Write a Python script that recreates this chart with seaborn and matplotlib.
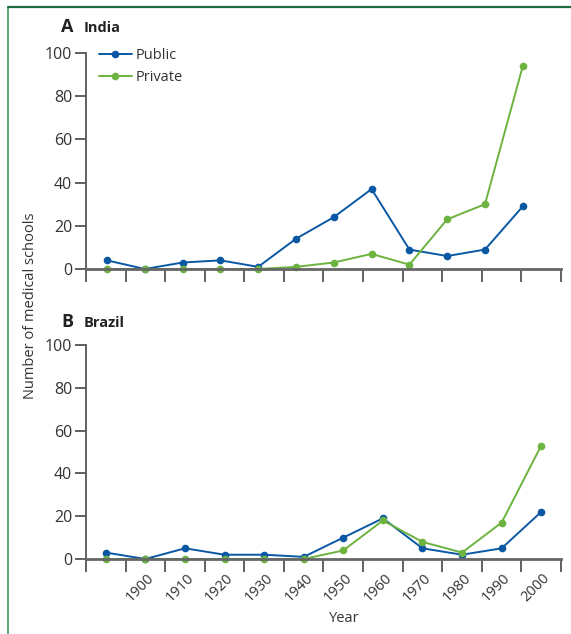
import matplotlib
matplotlib.use("Agg")
import matplotlib.pyplot as plt
import matplotlib.transforms as mtransforms
from matplotlib.lines import Line2D
import seaborn as sns
import numpy as np
import pandas as pd

# ---- data ----
decade_labels = ["", "1900", "1910", "1920", "1930", "1940", "1950",
                 "1960", "1970", "1980", "1990", "2000"]
india_public = [4, 0, 3, 4, 1, 14, 24, 37, 9, 6, 9, 29]
india_private = [0, 0, 0, 0, 0, 1, 3, 7, 2, 23, 30, 94]
brazil_public = [3, 0, 5, 2, 2, 1, 10, 19, 5, 2, 5, 22]
brazil_private = [0, 0, 0, 0, 0, 0, 4, 18, 8, 3, 17, 53]

BLUE = "#0a57a4"
GREEN = "#6cb33f"
SPINE = "#555555"
TEXT = "#333333"

sns.set_theme(style="white")
plt.rcParams["font.family"] = ["Open Sans", "DejaVu Sans"]

fig = plt.figure(figsize=(5.71, 6.34), dpi=100)
W, H = 571, 634

def px_axes(left, right, top, bottom):
    return fig.add_axes([left / W, 1 - bottom / H, (right - left) / W, (bottom - top) / H])

ax1 = px_axes(86, 561, 53, 269)
ax2 = px_axes(86, 561, 345, 559)

n = len(decade_labels)
centers = np.arange(n) + 0.5
# India series were drawn with slightly compressed spacing in the source
india_x = 0.53 + np.arange(n) * 0.955

def draw(ax, x, pub, priv, legend):
    df = pd.DataFrame({"x": np.concatenate([x, x]),
                       "y": pub + priv,
                       "Sector": ["Public"] * n + ["Private"] * n})
    sns.lineplot(data=df, x="x", y="y", hue="Sector",
                 palette={"Public": BLUE, "Private": GREEN},
                 marker="o", markersize=5.5, markeredgewidth=0,
                 linewidth=1.4, ax=ax, legend=legend, sort=False)
    for ln in ax.lines:
        ln.set_clip_on(False)
    ax.set_xlim(0, n)
    ax.set_ylim(0, 100)
    ax.set_yticks([0, 20, 40, 60, 80, 100])
    ax.set_xticks(np.arange(n + 1))
    ax.set_xticklabels([])
    ax.set_xlabel("")
    ax.set_ylabel("")
    for s in ["top", "right"]:
        ax.spines[s].set_visible(False)
    ax.spines["left"].set_color(SPINE)
    ax.spines["left"].set_linewidth(1.3)
    ax.spines["bottom"].set_color("#666666")
    ax.spines["bottom"].set_linewidth(2.0)
    ax.spines["left"].set_zorder(0.5)
    ax.tick_params(axis="y", which="major", direction="out", length=8, width=1.3,
                   color=SPINE, labelsize=11.5, labelcolor=TEXT, pad=2, left=True)
    ax.tick_params(axis="x", which="major", direction="out", length=9, width=1.3,
                   color=SPINE, bottom=True)
    ax.set_facecolor("white")

draw(ax1, india_x, india_public, india_private, True)
draw(ax2, centers, brazil_public, brazil_private, False)

handles = [Line2D([], [], color=BLUE, marker="o", markersize=5.5, markeredgewidth=0, linewidth=1.4),
           Line2D([], [], color=GREEN, marker="o", markersize=5.5, markeredgewidth=0, linewidth=1.4)]
ax1.legend(handles, ["Public", "Private"], loc="upper left", bbox_to_anchor=(0.005, 1.07),
           frameon=False, fontsize=10.5, handlelength=2.3, handletextpad=0.25,
           labelspacing=0.45, labelcolor=TEXT, borderaxespad=0.3)

# x tick labels on Brazil panel (at decade centers)
ax2.set_xticks(centers[1:], minor=True)
ax2.set_xticklabels(decade_labels[1:], minor=True)
ax2.tick_params(axis="x", which="minor", length=0, pad=8, labelsize=10.5, labelcolor=TEXT)
offset = mtransforms.ScaledTranslation(1 / 72, 0, fig.dpi_scale_trans)
for lab in ax2.get_xticklabels(minor=True):
    lab.set_rotation(45)
    lab.set_ha("right")
    lab.set_va("top")
    lab.set_rotation_mode("anchor")
    lab.set_transform(lab.get_transform() + offset)

# panel titles
fig.text(61 / W, 1 - 32 / H, "A", fontsize=13, fontweight="bold", color="#222222")
fig.text(84 / W, 1 - 32 / H, "India", fontsize=10.5, fontweight="bold", color="#222222")
fig.text(61 / W, 1 - 327 / H, "B", fontsize=13, fontweight="bold", color="#222222")
fig.text(84 / W, 1 - 327 / H, "Brazil", fontsize=10.5, fontweight="bold", color="#222222")

fig.text(31 / W, 1 - 306 / H, "Number of medical schools", rotation=90,
         ha="center", va="center", fontsize=10.5, color=TEXT)
fig.text(344 / W, 1 - 619 / H, "Year", ha="center", va="center", fontsize=10.5, color=TEXT)

# frame lines
fig.add_artist(Line2D([8 / W, 8 / W], [0, 1 - 7 / H], color="#3d9a5c", linewidth=1.2))
fig.add_artist(Line2D([8 / W, 1], [1 - 7 / H, 1 - 7 / H], color="#1f6b3f", linewidth=1.6))

fig.savefig("out.png", dpi=100, facecolor="white")
